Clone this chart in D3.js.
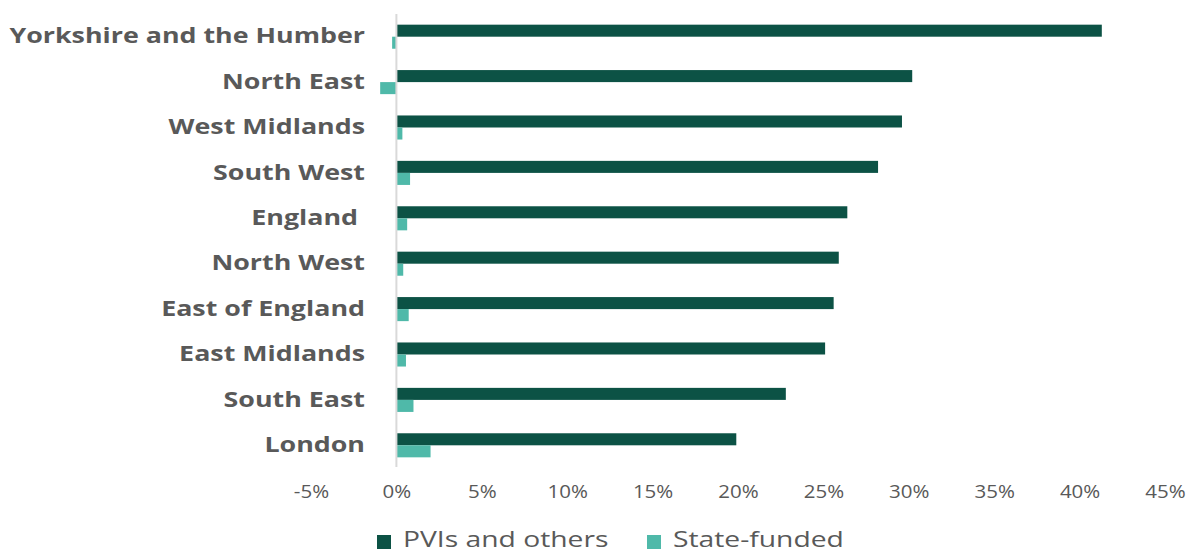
<!DOCTYPE html>
<html lang="en">
<head>
    <meta charset="UTF-8">
    <title>PVIs and state-funded by region</title>
    <script src="https://d3js.org/d3.v7.min.js"></script>
    <style>
        body { margin: 0; background: #fff; }
        .cat { font-family: "Open Sans", sans-serif; font-weight: bold; font-size: 22px; fill: #595959; white-space: pre; }
        .tick text { font-family: "Open Sans", sans-serif; font-size: 18px; fill: #595959; }
        .legend text { font-family: "Open Sans", sans-serif; font-size: 22px; fill: #595959; }
    </style>
</head>
<body>
<svg width="1188" height="554"></svg>
<script>
    const regions = ["Yorkshire and the Humber", "North East", "West Midlands", "South West", "England ",
        "North West", "East of England", "East Midlands", "South East", "London"];
    const pvis = [41.3, 30.2, 29.6, 28.2, 26.4, 25.9, 25.6, 25.1, 22.8, 19.9];
    const stateFunded = [-0.25, -0.95, 0.35, 0.8, 0.63, 0.4, 0.72, 0.56, 1.0, 2.0];
    const seriesNames = ["PVIs and others", "State-funded"];
    const tickValues = [-5, 0, 5, 10, 15, 20, 25, 30, 35, 40, 45];

    const colors = ["#0c5245", "#4fb9a9"];

    const svg = d3.select("svg");

    const x = d3.scaleLinear()
        .domain([-5, 45])
        .range([311, 1165]);

    const y = d3.scaleBand()
        .domain(regions)
        .range([14, 468])
        .paddingInner(0.47)
        .paddingOuter(0.235);

    const ySub = d3.scaleBand()
        .domain(seriesNames)
        .range([0, y.bandwidth()]);

    const rows = regions.map((r, i) => ({ region: r, values: [pvis[i], stateFunded[i]] }));

    // bars
    const g = svg.selectAll(".row")
        .data(rows)
        .enter()
        .append("g")
        .attr("class", "row")
        .attr("transform", d => `translate(0,${y(d.region)})`);

    g.selectAll("rect")
        .data(d => d.values.map((v, k) => ({ v, k })))
        .enter()
        .append("rect")
        .attr("x", d => Math.min(x(0), x(d.v)))
        .attr("y", d => ySub(seriesNames[d.k]))
        .attr("width", d => Math.abs(x(d.v) - x(0)))
        .attr("height", ySub.bandwidth())
        .attr("fill", d => colors[d.k]);

    // zero line
    svg.append("line")
        .attr("x1", x(0)).attr("x2", x(0))
        .attr("y1", 14).attr("y2", 467)
        .attr("stroke", "#d9d9d9")
        .attr("stroke-width", 2);

    // category labels (source text is drawn wide, so stretch horizontally)
    svg.selectAll(".cat")
        .data(regions)
        .enter()
        .append("text")
        .attr("class", "cat")
        .attr("transform", d => `translate(365,${y(d) + y.bandwidth() / 2}) scale(1.22,1)`)
        .attr("dy", "0.3em")
        .attr("text-anchor", "end")
        .text(d => d);

    // x axis
    const xAxis = svg.append("g")
        .attr("transform", "translate(0,482)")
        .call(d3.axisBottom(x).tickValues(tickValues).tickSize(0).tickFormat(d => d + "%"));
    xAxis.select(".domain").remove();
    xAxis.selectAll(".tick text").attr("transform", "scale(1.14,1)");

    // legend
    const legend = svg.append("g").attr("class", "legend");
    const legendX = [377, 647];
    seriesNames.forEach((s, i) => {
        legend.append("rect")
            .attr("x", legendX[i]).attr("y", 535)
            .attr("width", 14).attr("height", 14)
            .attr("fill", colors[i]);
        legend.append("text")
            .attr("transform", `translate(${legendX[i] + 26},547) scale(1.285,1)`)
            .text(s);
    });
</script>
</body>
</html>
